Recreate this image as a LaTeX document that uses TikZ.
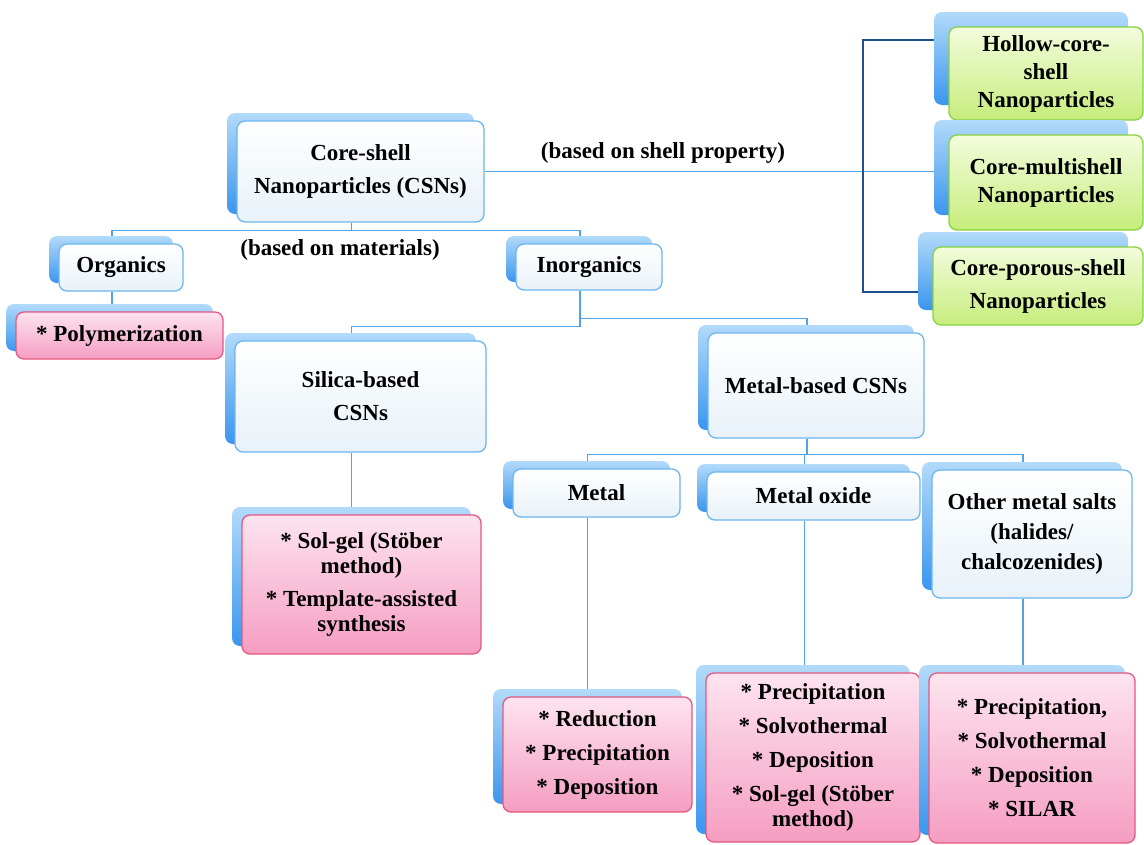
\documentclass[tikz,border=0pt]{standalone}
\usepackage{fontspec}
\setmainfont{Liberation Serif}
\usetikzlibrary{shadows,backgrounds}

\definecolor{linkblue}{HTML}{4FA3E6}
\definecolor{brackblue}{HTML}{1F4F8C}
\definecolor{sdtop}{HTML}{B2DAFA}
\definecolor{sdbot}{HTML}{3A96EE}
\definecolor{plainbot}{HTML}{E8F2F9}
\definecolor{plainline}{HTML}{6CB6EE}
\definecolor{pinktop}{HTML}{FDE4EF}
\definecolor{pinkbot}{HTML}{F59DC2}
\definecolor{pinkline}{HTML}{E4597F}
\definecolor{greentop}{HTML}{F3FCDC}
\definecolor{greenbot}{HTML}{C6ED7C}
\definecolor{greenline}{HTML}{86D243}

\tikzset{
  boxbase/.style={rounded corners=8pt, line width=1.3pt, align=center, inner sep=3pt,
    font=\fontsize{23}{33}\selectfont\bfseries},
  sh/.style={general shadow={shadow xshift=-10pt, shadow yshift=8pt, draw=none,
    top color=sdtop, bottom color=sdbot, opacity=1}},
  greensh/.style={general shadow={shadow xshift=-15pt, shadow yshift=15pt, draw=none,
    top color=sdtop, bottom color=sdbot, opacity=1}},
  plainbox/.style={boxbase, sh, draw=plainline, top color=white, bottom color=plainbot},
  pinkbox/.style={boxbase, sh, draw=pinkline, top color=pinktop, bottom color=pinkbot},
  greenbox/.style={boxbase, greensh, draw=greenline, top color=greentop, bottom color=greenbot},
  link/.style={draw=linkblue, line width=1.5pt},
  bracket/.style={draw=brackblue, line width=1.4pt},
  lbl/.style={font=\fontsize{23}{33}\selectfont\bfseries, inner sep=1pt}
}

\begin{document}
\begin{tikzpicture}[x=1pt, y=-1pt]
  \useasboundingbox (0,0) rectangle (1144,844);

  % top of the tree
  \node[plainbox, minimum width=247pt, minimum height=101pt] (core) at (360.5,171.5)
    {Core-shell\\Nanoparticles (CSNs)};
  \node[plainbox, minimum width=124pt, minimum height=47pt] (org) at (121,267.5) {Organics};
  \node[plainbox, minimum width=146pt, minimum height=46pt] (inorg) at (589,267) {Inorganics};
  \node[pinkbox, minimum width=207pt, minimum height=47pt] (poly) at (119.5,335.5) {* Polymerization};

  % shell property branch
  \node[greenbox, minimum width=194pt, minimum height=93pt, font=\fontsize{23}{28}\selectfont\bfseries]
    (hollow) at (1046,73.5) {Hollow-core-\\shell\\Nanoparticles};
  \node[greenbox, minimum width=194pt, minimum height=95pt, font=\fontsize{23}{28}\selectfont\bfseries]
    (multi) at (1046,182.5) {Core-multishell\\Nanoparticles};
  \node[greenbox, minimum width=210pt, minimum height=78pt] (porous) at (1038,286)
    {Core-porous-shell\\Nanoparticles};

  % inorganics
  \node[plainbox, minimum width=251pt, minimum height=111pt] (silica) at (360.5,396.5) {Silica-based\\CSNs};
  \node[plainbox, minimum width=216pt, minimum height=105pt] (metalcsn) at (816,385.5) {Metal-based CSNs};
  \node[pinkbox, minimum width=239pt, minimum height=139pt] (solgel) at (361.5,584.5)
    {* Sol-gel (St\"ober\\[-8pt]method)\\* Template-assisted\\[-8pt]synthesis};

  % metal based
  \node[plainbox, minimum width=167pt, minimum height=48pt] (metal) at (596.5,493) {Metal};
  \node[plainbox, minimum width=213pt, minimum height=48pt] (oxide) at (813.5,496) {Metal oxide};
  \node[plainbox, minimum width=200pt, minimum height=128pt, font=\fontsize{23}{30}\selectfont\bfseries]
    (salts) at (1032,534) {Other metal salts\\(halides/\\chalcozenides)};
  \node[pinkbox, minimum width=189pt, minimum height=115pt, font=\fontsize{23}{34}\selectfont\bfseries]
    (redu) at (597.5,754.5) {* Reduction\\* Precipitation\\* Deposition};
  \node[pinkbox, minimum width=214pt, minimum height=169pt, font=\fontsize{23}{34}\selectfont\bfseries]
    (oxmeth) at (813,757.5) {* Precipitation\\* Solvothermal\\* Deposition\\* Sol-gel (St\"ober\\[-9pt]method)};
  \node[pinkbox, minimum width=206pt, minimum height=170pt, font=\fontsize{23}{34}\selectfont\bfseries]
    (saltmeth) at (1032,758) {* Precipitation,\\* Solvothermal\\* Deposition\\* SILAR};

  % labels
  \node[lbl] (shelllbl) at (663,153) {(based on shell property)};
  \node[lbl] (matlbl) at (340,250) {(based on materials)};

  \begin{pgfonlayer}{background}
    \fill[white] (0,0) rectangle (1144,844);
    \draw[link] ([xshift=-9pt]core.south) -- ++(0,8) coordinate (j1);
    \draw[link] ([xshift=-9pt]org.north) |- (j1) -| ([xshift=-9pt]inorg.north);
    \draw[link] ([xshift=-9pt]org.south) -- ([xshift=-9pt]org.south |- poly.north);
    \draw[link] ([xshift=-9pt]inorg.south) -- ++(0,36) -| ([xshift=-9pt]silica.north);
    \draw[link] ([xshift=-9pt]inorg.south) ++(0,28) -| ([xshift=-9pt]metalcsn.north);
    \draw[link] ([xshift=-9pt]silica.south) -- ([xshift=-9pt]silica.south |- solgel.north);
    \draw[link] ([xshift=-9pt]metalcsn.south) -- ++(0,16) coordinate (j2);
    \draw[link] ([xshift=-9pt]metal.north) |- (j2) -| ([xshift=-9pt]salts.north);
    \draw[link] (j2) -| ([xshift=-9pt]oxide.north);
    \draw[link] ([xshift=-9pt]metal.south) -- ([xshift=-9pt]metal.south |- redu.north);
    \draw[link] ([xshift=-9pt]oxide.south) -- ([xshift=-9pt]oxide.south |- oxmeth.north);
    \draw[link] ([xshift=-9pt]salts.south) -- ([xshift=-9pt]salts.south |- saltmeth.north);
    \draw[link] (core.east) -- (core.east -| multi.west);
    \coordinate (brk) at (863,0);
    \draw[bracket] ([yshift=33.5pt]hollow.west) -| ([yshift=-6pt]porous.west -| brk)
      -- ([yshift=-6pt]porous.west);
  \end{pgfonlayer}
\end{tikzpicture}
\end{document}
